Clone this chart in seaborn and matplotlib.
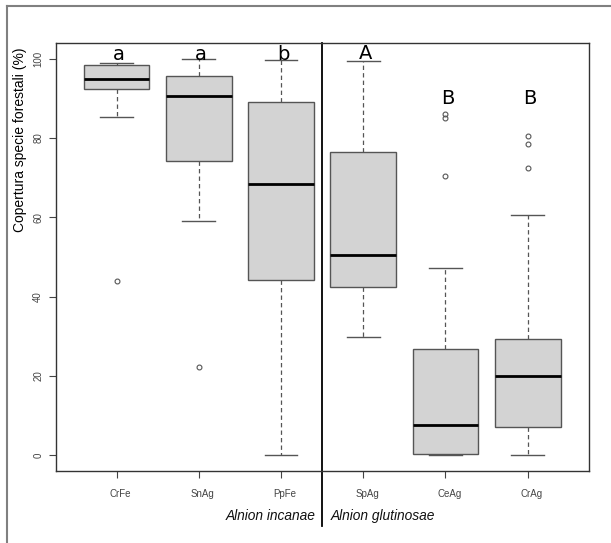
import matplotlib
matplotlib.use("Agg")
import matplotlib.pyplot as plt
import matplotlib.transforms as mtransforms
from matplotlib.lines import Line2D
import seaborn as sns
import pandas as pd

# ---- data ----
groups = ["CrFe", "SnAg", "PpFe", "SpAg", "CeAg", "CrAg"]
crfe = [44.0, 85.3, 92.3, 93.5, 94.9, 96.0, 98.4, 98.7, 98.9]
snag = [22.3, 59.0, 74.3, 85.0, 90.6, 93.0, 95.6, 98.0, 100.0]
ppfe = [0.0, 25.0, 44.3, 58.0, 68.5, 80.0, 89.1, 95.0, 99.6]
spag = [29.9, 38.0, 42.4, 46.0, 50.6, 65.0, 76.6, 88.0, 99.5]
ceag = [0.0, 0.0, 0.0, 0.1, 0.3, 2.0, 4.0, 6.0, 7.6, 12.0, 18.0, 23.0, 26.8,
        47.3, 70.4, 85.1, 86.1]
crag = [0.0, 2.0, 4.0, 6.0, 7.2, 10.0, 14.0, 17.0, 20.0, 23.0, 26.0, 28.0,
        29.2, 60.7, 72.5, 78.6, 80.6]
series = [crfe, snag, ppfe, spag, ceag, crag]
letters = ["a", "a", "b", "A", "B", "B"]
letter_y = [99.8, 99.8, 99.8, 100.0, 88.6, 88.6]
yticks = [0, 20, 40, 60, 80, 100]
alliance_left = "Alnion incanae"
alliance_right = "Alnion glutinosae"
ylabel = "Copertura specie forestali (%)"

df = pd.DataFrame({
    "group": [g for g, s in zip(groups, series) for _ in s],
    "value": [v for s in series for v in s],
})

W, H = 611, 543
fig = plt.figure(figsize=(W / 100, H / 100), dpi=100)
ax = fig.add_axes([55.7 / W, 1 - 471 / H, (588.5 - 55.7) / W, (471 - 43) / H])

sns.boxplot(
    data=df, x="group", y="value", order=groups, ax=ax,
    color="#d3d3d3", saturation=1, width=0.8,
    linecolor="#555555", linewidth=1.0,
    whiskerprops=dict(linestyle=(0, (3.5, 2.5)), linewidth=0.9),
    capprops=dict(linewidth=1.0),
    medianprops=dict(color="black", linewidth=2.0),
    flierprops=dict(marker="o", markersize=3.5, markerfacecolor="none",
                    markeredgecolor="#555555", markeredgewidth=0.8),
)

ax.set_xlim(0.26 - 1, 6.74 - 1)
ax.set_ylim(-4, 104)
ax.set_yticks(yticks)
ax.set_yticklabels([str(t) for t in yticks], rotation=90, va="center",
                   fontsize=7, color="#444444", family="Liberation Sans")
ax.tick_params(axis="y", length=5, width=0.8, color="#444444", pad=4)
ax.tick_params(axis="x", length=5, width=0.8, color="#444444", pad=8)
for lab in ax.get_xticklabels():
    lab.set_fontsize(7)
    lab.set_color("#444444")
    lab.set_family("Liberation Sans")
    lab.set_transform(lab.get_transform() +
                      mtransforms.ScaledTranslation(4 / 100, 0, fig.dpi_scale_trans))
ax.set_xlabel("")
ax.set_ylabel("")
for sp in ax.spines.values():
    sp.set_color("#333333")
    sp.set_linewidth(1.0)

# significance letters
for i, (lt, yv) in enumerate(zip(letters, letter_y)):
    ax.text(i + 0.03, yv, lt, ha="center", va="baseline", fontsize=14,
            family="DejaVu Sans", color="black", clip_on=False)

# separator line between alliances
ax.axvline(2.5, ymin=-0.1285, ymax=1, color="black", linewidth=1.3, clip_on=False)
tr = ax.get_xaxis_transform()
ax.text(2.5 - 0.08, -0.105, alliance_left, transform=tr, ha="right", va="center",
        fontsize=9.9, style="italic", family="Liberation Sans", color="#111111")
ax.text(2.5 + 0.1, -0.105, alliance_right, transform=tr, ha="left", va="center",
        fontsize=9.9, style="italic", family="Liberation Sans", color="#111111")

fig.text(20 / W, 1 - 140 / H, ylabel, rotation=90, ha="center", va="center",
         fontsize=10, family="Liberation Sans")

# outer frame (top and left edges)
fig.add_artist(Line2D([7.5 / W, 1], [1 - 6 / H, 1 - 6 / H], transform=fig.transFigure,
                      color="#808080", linewidth=1.5))
fig.add_artist(Line2D([7.5 / W, 7.5 / W], [0, 1 - 6 / H], transform=fig.transFigure,
                      color="#808080", linewidth=1.5))

fig.savefig("out.png", dpi=100)
